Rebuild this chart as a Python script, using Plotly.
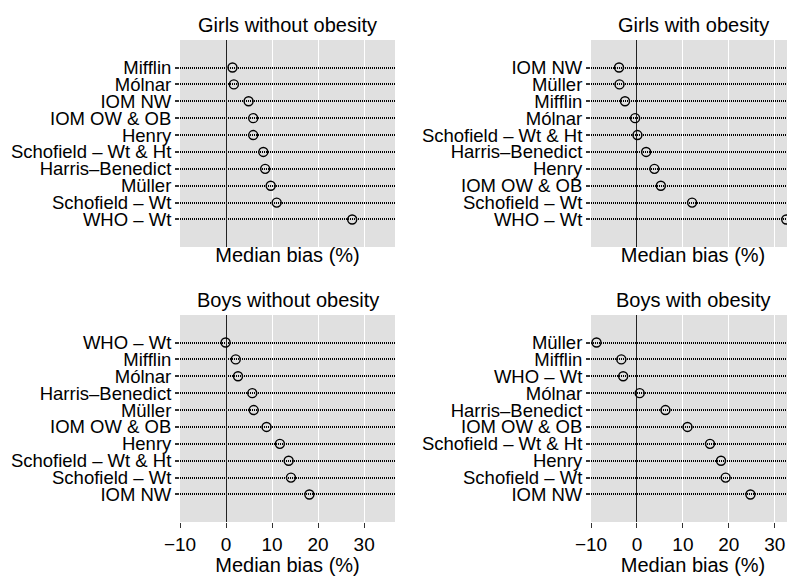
import plotly.graph_objects as go

panel_titles = ["Girls without obesity", "Girls with obesity", "Boys without obesity", "Boys with obesity"]

gw_labels = ["Mifflin", "Mólnar", "IOM NW", "IOM OW & OB", "Henry", "Schofield – Wt & Ht",
             "Harris–Benedict", "Müller", "Schofield – Wt", "WHO – Wt"]
gw_values = [1.4, 1.7, 4.9, 5.9, 5.9, 8.1, 8.5, 9.7, 11.0, 27.4]

go_labels = ["IOM NW", "Müller", "Mifflin", "Mólnar", "Schofield – Wt & Ht", "Harris–Benedict",
             "Henry", "IOM OW & OB", "Schofield – Wt", "WHO – Wt"]
go_values = [-3.9, -3.8, -2.6, -0.4, 0.1, 2.0, 3.8, 5.2, 12.0, 32.5]

bw_labels = ["WHO – Wt", "Mifflin", "Mólnar", "Harris–Benedict", "Müller", "IOM OW & OB",
             "Henry", "Schofield – Wt & Ht", "Schofield – Wt", "IOM NW"]
bw_values = [-0.1, 2.1, 2.6, 5.7, 6.0, 8.8, 11.7, 13.6, 14.1, 18.1]

bo_labels = ["Müller", "Mifflin", "WHO – Wt", "Mólnar", "Harris–Benedict", "IOM OW & OB",
             "Schofield – Wt & Ht", "Henry", "Schofield – Wt", "IOM NW"]
bo_values = [-8.8, -3.4, -3.0, 0.6, 6.2, 11.0, 15.9, 18.3, 19.3, 24.7]

x_tickvals = [-10, 0, 10, 20, 30]
x_ticktext = ["\u221210", "0", "10", "20", "30"]
x_title = "Median bias (%)"

# the page body has an 8px margin, so the figure is 8px smaller and shifted
W, H = 787, 568
FONT = "Liberation Sans, Arial, Helvetica, sans-serif"

# pixel boxes in figure coordinates: (left, right, top, bottom)
boxes = [(172, 387, 32, 239), (583, 787, 32, 239), (172, 387, 307, 514), (583, 787, 307, 514)]
xranges = [[-10, 36.7], [-10, 34.4], [-10, 36.7], [-10, 34.4]]

panels = [(gw_labels, gw_values), (go_labels, go_values), (bw_labels, bw_values), (bo_labels, bo_values)]

fig = go.Figure()
layout = dict(
    width=W, height=H, margin=dict(l=0, r=0, t=0, b=0, autoexpand=False),
    paper_bgcolor="white", plot_bgcolor="#e0e0e0",
    showlegend=False, font=dict(family=FONT, size=18, color="black"),
)
annotations = []
for i, ((labels, values), (l, r, t, b), xr) in enumerate(zip(panels, boxes, xranges)):
    n = i + 1
    xa = "x" if n == 1 else f"x{n}"
    ya = "y" if n == 1 else f"y{n}"
    fig.add_trace(go.Scatter(
        x=values, y=labels, mode="markers", xaxis=xa, yaxis=ya,
        marker=dict(symbol="circle-open", size=9, color="black", line=dict(width=1.4, color="black")),
        cliponaxis=False,
    ))
    bottom_row = i >= 2
    layout["xaxis" if n == 1 else f"xaxis{n}"] = dict(
        domain=[l / W, r / W], anchor=ya, range=xr, automargin=False,
        tickmode="array", tickvals=x_tickvals, ticktext=x_ticktext,
        showticklabels=bottom_row, ticks="outside" if bottom_row else "",
        ticklen=5, tickcolor="#333333", tickwidth=1,
        tickfont=dict(size=19, color="black"),
        showgrid=True, gridcolor="white", gridwidth=1.3,
        zeroline=True, zerolinecolor="#222222", zerolinewidth=1.4,
        showline=False,
        title=dict(text=x_title, font=dict(size=20, color="black"), standoff=0),
        fixedrange=True,
    )
    layout["yaxis" if n == 1 else f"yaxis{n}"] = dict(
        domain=[1 - b / H, 1 - t / H], anchor=xa, type="category", automargin=False,
        categoryorder="array", categoryarray=labels,
        tickmode="array", tickvals=labels, ticktext=labels,
        range=[len(labels) - 1 + 1.63, -1.63],
        showgrid=True, gridcolor="black", gridwidth=1.5, griddash="1px,1px",
        zeroline=False, showline=False,
        ticks="outside", ticklen=4, tickwidth=1.5, tickcolor="#333333",
        tickfont=dict(size=18.5, color="black"),
        fixedrange=True,
    )
    annotations.append(dict(
        text=panel_titles[i], xref="paper", yref="paper",
        x=((l + r) / 2) / W, y=1 - (t - 15) / H, xanchor="center", yanchor="middle",
        showarrow=False, font=dict(size=20, color="black"),
    ))
layout["annotations"] = annotations
fig.update_layout(**layout)
fig.write_html("out.html")
